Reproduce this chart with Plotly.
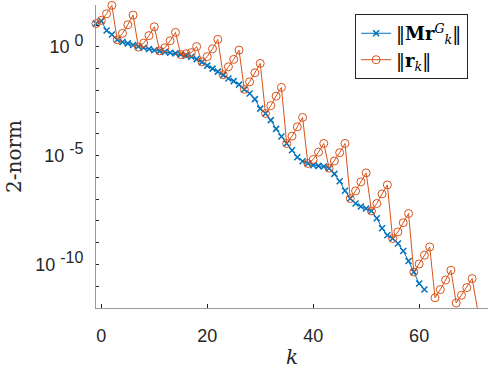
import plotly.graph_objects as go

# ---- data (log10 values) ----
k_r = list(range(-1, 72))
# pixel-read values converted to log10(norm)
y0_px, dec_px = 46.7, 21.75
r_px = [23.5, 20.3, 13.7, 5.3, 39.7, 33.3, 24.7, 15.0, 47.0, 43.0, 35.5, 26.7,
        50.7, 47.7, 40.7, 32.3, 54.5, 53.7, 52.5, 46.5, 61.7, 56.5, 48.7, 39.3,
        74.5, 66.7, 59.3, 50.0, 89.3, 81.7, 72.7, 63.3, 113.3, 105.5, 96.0, 87.3,
        143.3, 136.0, 126.7, 117.3, 163.3, 159.3, 152.0, 143.3, 168.0, 160.8, 152.5, 143.3,
        198.3, 190.7, 181.7, 172.7, 210.7, 203.3, 193.7, 184.7, 238.3, 231.7, 222.5, 213.3,
        271.7, 263.7, 255.0, 246.7, 297.5, 289.3, 279.7, 270.0, 302.7, 295.0, 287.3, 278.3,
        308.3]
k_g = list(range(-1, 62))
g_px = [23.5, 21.0, 30.5, 34.5, 39.7, 42.0, 43.3, 45.0, 46.5, 47.7, 49.0, 50.2,
        51.0, 51.8, 52.7, 53.3, 54.3, 55.5, 56.7, 59.0, 62.0, 65.5, 68.5, 71.5,
        75.0, 78.3, 81.0, 84.5, 89.3, 93.3, 99.0, 108.5, 113.3, 120.0, 128.7, 136.3,
        143.3, 150.0, 157.0, 161.0, 163.3, 165.0, 165.7, 166.3, 168.0, 173.7, 181.0, 190.5,
        198.3, 203.3, 206.3, 208.3, 210.7, 218.0, 228.0, 235.0, 238.3, 243.3, 250.7, 260.7,
        271.7, 283.3, 289.3]
r_norm = [10 ** ((y0_px - p) / dec_px) for p in r_px]
g_norm = [10 ** ((y0_px - p) / dec_px) for p in g_px]

y_tick_exp = list(range(-12, 2))
y_label_exp = [0, -5, -10]
x_ticks = [0, 20, 40, 60]

BLUE = "#0072BD"
ORANGE = "#D95319"

fig = go.Figure()
fig.add_trace(go.Scatter(
    x=k_g, y=g_norm, mode="lines+markers", name="‖<b>Mr</b><sup><i>G</i></sup><sub><i>k</i></sub>‖",
    line=dict(color=BLUE, width=1),
    marker=dict(symbol="x-thin", size=6, line=dict(color=BLUE, width=1.5)),
    cliponaxis=False,
))
fig.add_trace(go.Scatter(
    x=k_r, y=r_norm, mode="lines+markers", name="‖<b>r</b><sub><i>k</i></sub>‖",
    line=dict(color=ORANGE, width=1),
    marker=dict(symbol="circle-open", size=8, color=ORANGE, line=dict(color=ORANGE, width=1)),
    cliponaxis=False,
))

ticktext = [("10 <sup><span style='font-size:16px'>%d</span></sup>" % e) if e in y_label_exp else ""
            for e in y_tick_exp]

fig.update_layout(
    width=488, height=368,
    margin=dict(l=96, r=0, t=5, b=60),
    paper_bgcolor="white", plot_bgcolor="white",
    showlegend=True,
    legend=dict(
        x=0.661, y=0.97, xanchor="left", yanchor="top",
        bgcolor="white", bordercolor="#262626", borderwidth=1,
        font=dict(family="DejaVu Serif", size=18, color="#000"),
        tracegroupgap=0,
    ),
    xaxis=dict(
        range=[-1, 73], tickvals=x_ticks, ticks="inside", ticklen=4,
        tickcolor="#262626", showline=True, linecolor="#999999", linewidth=1,
        showgrid=False, zeroline=False, automargin=False,
        tickfont=dict(family="Liberation Sans", size=18, color="#262626"),
        ticklabelstandoff=11,
    ),
    yaxis=dict(
        type="log", range=[-12, 1.92],
        tickvals=[10 ** e for e in y_tick_exp], ticktext=ticktext,
        ticks="inside", ticklen=3, tickcolor="#262626",
        showline=True, linecolor="#999999", linewidth=1,
        showgrid=False, zeroline=False, automargin=False,
        tickfont=dict(family="Liberation Sans", size=18, color="#262626"),
        ticklabelstandoff=8,
        title=dict(text="2-norm", font=dict(family="DejaVu Serif", size=20, color="#262626"),
                   standoff=8),
    ),
    annotations=[dict(
        text="<i>k</i>", xref="paper", yref="paper", x=0.5, y=-0.162,
        xanchor="center", yanchor="middle", showarrow=False,
        font=dict(family="DejaVu Serif", size=20, color="#262626"),
    )],
)

fig.write_html(
    "out.html",
    config={"displayModeBar": False},
    post_script="document.body.style.margin='0';document.body.style.overflow='hidden';",
)
